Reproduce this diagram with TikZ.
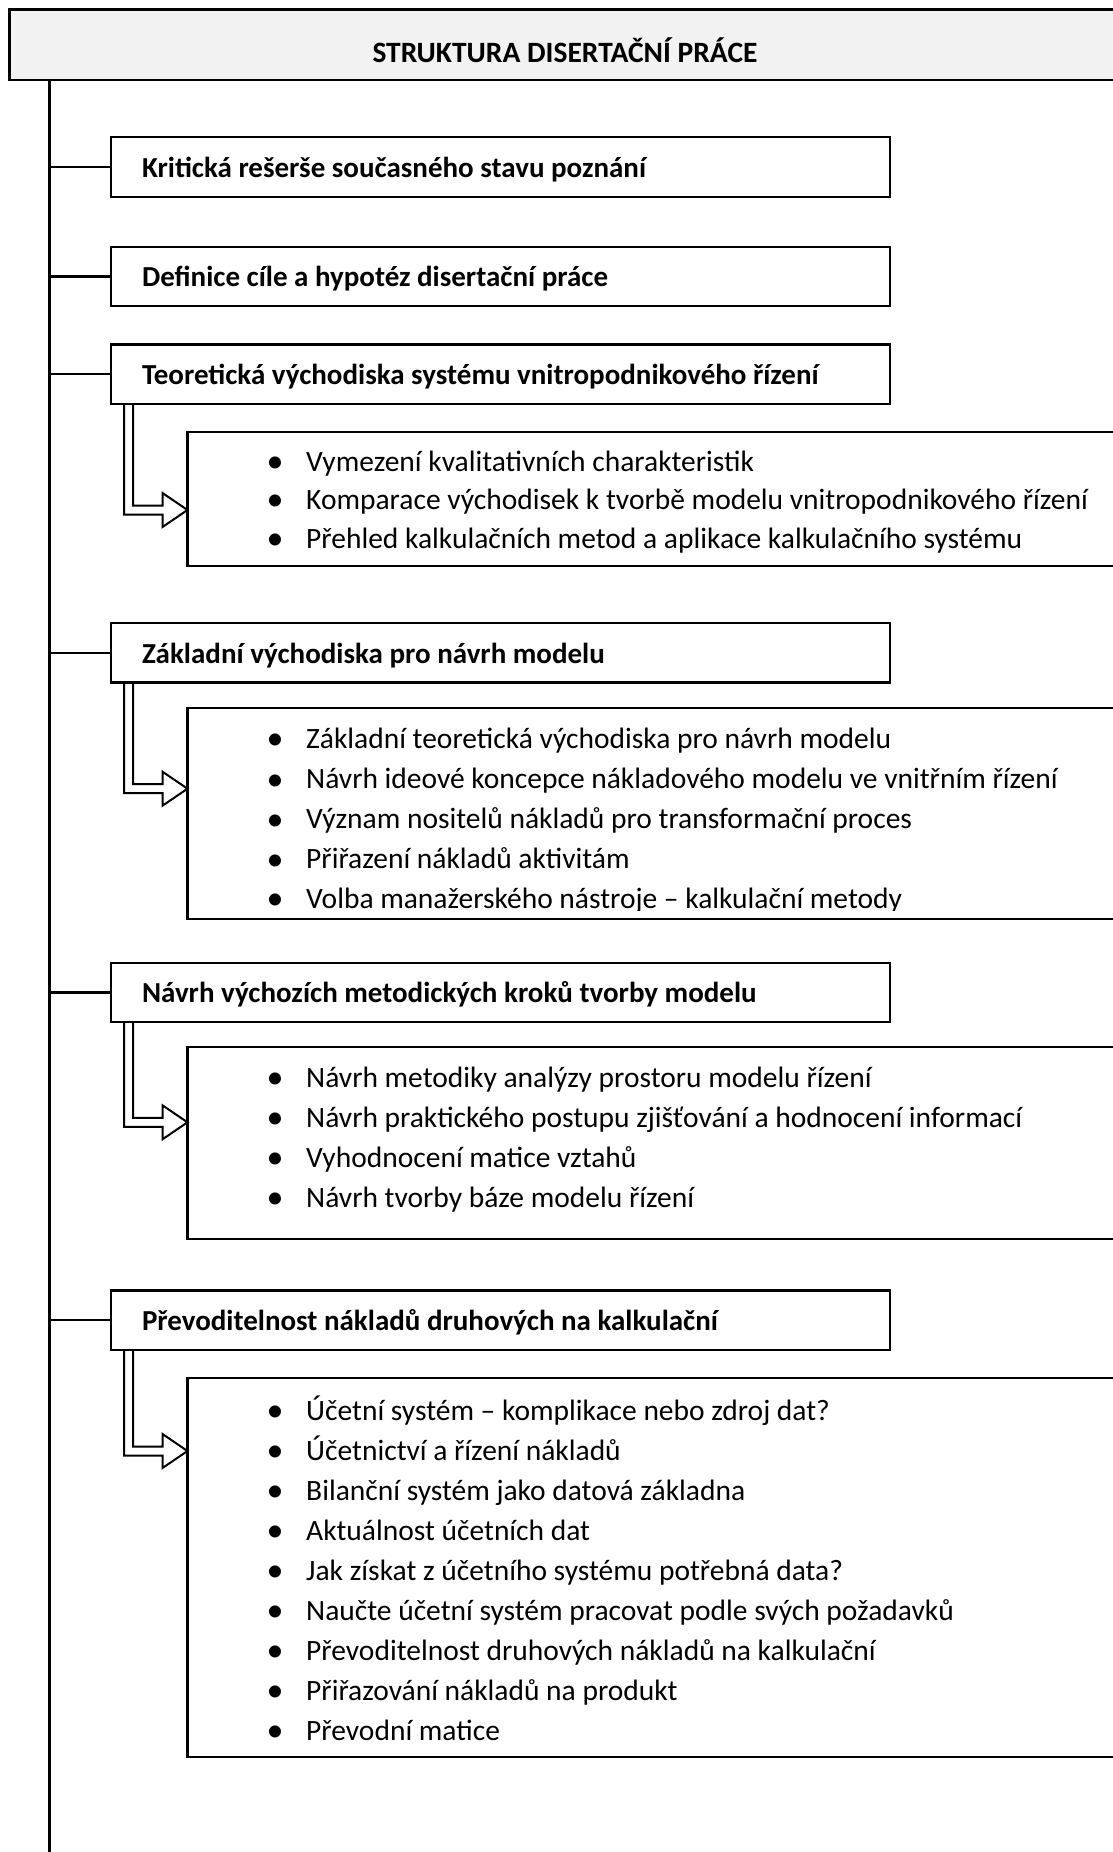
\documentclass[tikz,border=0pt]{standalone}
\usepackage{fontspec}
\setmainfont{Carlito}
\usetikzlibrary{calc,backgrounds}
\definecolor{titlegray}{HTML}{F2F2F2}

% one bullet line of a list: name, baseline, text
\newcommand\listitem[3]{%
  \node[dot] (#1b) at (275,#2) {•};
  \node[item] (#1) at (306,#2) {#3};}

% hollow bent arrow from a heading box down and right into its list box
\newcommand\bentarrow[3]{%
  \coordinate (#2-A) at ($(#1.south west)+(13,0)$);
  \coordinate (#2-B) at ($(#1.south west)+(22,0)$);
  \coordinate (#2-T) at ($(#2.north west)+(0,#3)$);
  \coordinate (#2-L) at ($(#2-T)+(0,4.5)$);
  \coordinate (#2-U) at ($(#2-T)+(0,-4.5)$);
  \begin{pgfonlayer}{background}
  \draw[hollow] (#2-A) -- (#2-A |- #2-L) -- ($(#2-T)+(-25,4.5)$) -- ($(#2-T)+(-25,17)$)
     -- (#2-T) -- ($(#2-T)+(-25,-17)$) -- ($(#2-T)+(-25,-4.5)$) -- (#2-B |- #2-U) -- (#2-B);
  \end{pgfonlayer}}

\begin{document}
\begin{tikzpicture}[x=1pt,y=-1pt,
  frame/.style={draw=black,line width=2.3pt},
  trunk/.style={draw=black,line width=2.5pt},
  titlebox/.style={frame,fill=titlegray,anchor=north west,outer sep=0pt,inner sep=0pt,
    minimum width=1111pt,minimum height=70.5pt,
    font=\fontsize{29.5}{34}\selectfont\bfseries,text height=36.4pt,text depth=1pt},
  heading/.style={frame,anchor=north west,outer sep=0pt,inner xsep=31pt,inner ysep=0pt,
    minimum width=779pt,text width=717pt,align=flush left,minimum height=59.5pt,
    font=\fontsize{29}{34}\selectfont\bfseries,text height=22pt,text depth=1pt},
  listbox/.style={frame,anchor=north west,outer sep=0pt,inner sep=0pt,minimum width=960pt},
  item/.style={anchor=base west,inner sep=0pt,font=\fontsize{29.5}{34}\selectfont},
  dot/.style={anchor=base,inner sep=0pt,yshift=-1.5pt,font=\fontsize{34}{38}\selectfont},
  hollow/.style={draw=black,fill=white,line width=2pt,line join=miter},
]
\useasboundingbox (0,0) rectangle (1113,1852);
\clip (0,0) rectangle (1113,1852);

% title bar and the trunk line
\node[titlebox] (top) at (9.5,9.5) {STRUKTURA DISERTAČNÍ PRÁCE};
\coordinate (trunkend) at (49.5,1860);
\draw[trunk] (top.south west -| trunkend) -- (trunkend);

% chapter headings
\node[heading] (k1) at (111,137.3) {Kritická rešerše současného stavu poznání};
\node[heading] (k2) at (111,246.7) {Definice cíle a hypotéz disertační práce};
\node[heading] (k3) at (111,344.5) {Teoretická východiska systému vnitropodnikového řízení};
\node[heading] (k4) at (111,623) {Základní východiska pro návrh modelu};
\node[heading] (k5) at (111,962.7) {Návrh výchozích metodických kroků tvorby modelu};
\node[heading] (k6) at (111,1290.5) {Převoditelnost nákladů druhových na kalkulační};
\foreach \k in {k1,k2,k3,k4,k5,k6}
  \draw[frame] (\k.west -| trunkend) -- (\k.west);

% list boxes
\node[listbox,minimum height=134pt] (s3) at (187.5,432) {};
\node[listbox,minimum height=211pt] (s4) at (187.5,707.7) {};
\node[listbox,minimum height=192pt] (s5) at (187.5,1047.3) {};
\node[listbox,minimum height=379pt] (s6) at (187.5,1378) {};

\listitem{s3i1}{471}{Vymezení kvalitativních charakteristik}
\listitem{s3i2}{509.4}{Komparace východisek k tvorbě modelu vnitropodnikového řízení}
\listitem{s3i3}{548.3}{Přehled kalkulačních metod a aplikace kalkulačního systému}

\begin{scope}
  \clip ($(s4.north west)+(0,2)$) rectangle (s4.south east |- 0,910);
  \listitem{s4i1}{748}{Základní teoretická východiska pro návrh modelu}
  \listitem{s4i2}{788.5}{Návrh ideové koncepce nákladového modelu ve vnitřním řízení}
  \listitem{s4i3}{828.5}{Význam nositelů nákladů pro transformační proces}
  \listitem{s4i4}{868.5}{Přiřazení nákladů aktivitám}
  \listitem{s4i5}{908}{Volba manažerského nástroje – kalkulační metody}
\end{scope}

\listitem{s5i1}{1087}{Návrh metodiky analýzy prostoru modelu řízení}
\listitem{s5i2}{1127}{Návrh praktického postupu zjišťování a hodnocení informací}
\listitem{s5i3}{1167}{Vyhodnocení matice vztahů}
\listitem{s5i4}{1207}{Návrh tvorby báze modelu řízení}

\listitem{s6i1}{1420}{Účetní systém – komplikace nebo zdroj dat?}
\listitem{s6i2}{1460}{Účetnictví a řízení nákladů}
\listitem{s6i3}{1500}{Bilanční systém jako datová základna}
\listitem{s6i4}{1540}{Aktuálnost účetních dat}
\listitem{s6i5}{1580}{Jak získat z účetního systému potřebná data?}
\listitem{s6i6}{1620}{Naučte účetní systém pracovat podle svých požadavků}
\listitem{s6i7}{1660}{Převoditelnost druhových nákladů na kalkulační}
\listitem{s6i8}{1700}{Přiřazování nákladů na produkt}
\listitem{s6i9}{1740}{Převodní matice}

% arrows from headings into their lists
\bentarrow{k3}{s3}{78}
\bentarrow{k4}{s4}{81}
\bentarrow{k5}{s5}{75}
\bentarrow{k6}{s6}{73}
\end{tikzpicture}
\end{document}
